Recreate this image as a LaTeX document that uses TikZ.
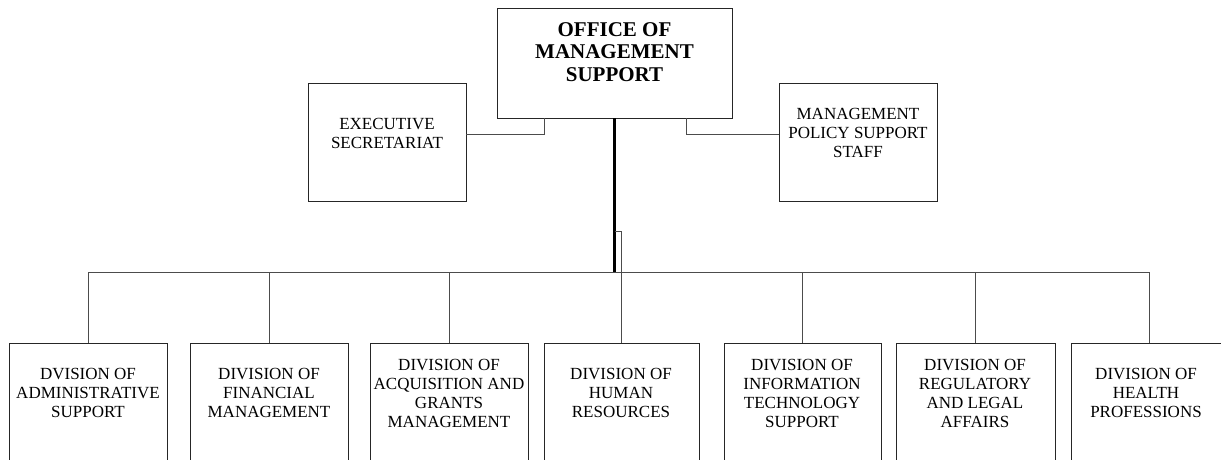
\documentclass[tikz,border=0pt]{standalone}
\usepackage{fontspec}
\setmainfont{Liberation Serif}
\begin{document}
\begin{tikzpicture}[x=1pt,y=-1pt,
  box/.style={draw=black!85, line width=0.9pt, inner sep=0pt, outer sep=0pt, anchor=north west},
  lbl/.style={align=center, font=\fontsize{17}{19}\selectfont, inner sep=0pt},
  ttl/.style={align=center, font=\fontsize{21}{22.5}\selectfont\bfseries, inner sep=0pt},
  conn/.style={draw=black!70, line width=0.9pt},
  trunk/.style={draw=black, line width=2.3pt}]
\useasboundingbox (0,0) rectangle (1221,459);
\clip (0,0) rectangle (1221,459);
\fill[white] (0,0) rectangle (1221,459);

% top level
\node[box, minimum width=235pt, minimum height=110pt] (oms) at (497,8) {};
\node[ttl] (omst) at (614.5,52) {OFFICE OF\\MANAGEMENT\\SUPPORT};

\node[box, minimum width=158pt, minimum height=118pt] (exec) at (308,83) {};
\node[lbl] (exect) at (387,133) {EXECUTIVE\\SECRETARIAT};

\node[box, minimum width=158pt, minimum height=118pt] (pol) at (779,83) {};
\node[lbl] (polt) at (858,133) {MANAGEMENT\\POLICY SUPPORT\\STAFF};

% divisions
\node[box, minimum width=158pt, minimum height=140pt] (d1) at (9,343) {};
\node[box, minimum width=158pt, minimum height=140pt] (d2) at (190,343) {};
\node[box, minimum width=158pt, minimum height=140pt] (d3) at (370,343) {};
\node[box, minimum width=155pt, minimum height=140pt] (d4) at (544,343) {};
\node[box, minimum width=157pt, minimum height=140pt] (d5) at (724,343) {};
\node[box, minimum width=159pt, minimum height=140pt] (d6) at (896,343) {};
\node[box, minimum width=156pt, minimum height=140pt] (d7) at (1071,343) {};

\node[lbl] (d1t) at (88,393) {DVISION OF\\ADMINISTRATIVE\\SUPPORT};
\node[lbl] (d2t) at (269,393) {DIVISION OF\\FINANCIAL\\MANAGEMENT};
\node[lbl] (d3t) at (449,393) {DIVISION OF\\ACQUISITION AND\\GRANTS\\MANAGEMENT};
\node[lbl] (d4t) at (621,393) {DIVISION OF\\HUMAN\\RESOURCES};
\node[lbl] (d5t) at (802,393) {DIVISION OF\\INFORMATION\\TECHNOLOGY\\SUPPORT};
\node[lbl] (d6t) at (975,393) {DIVISION OF\\REGULATORY\\AND LEGAL\\AFFAIRS};
\node[lbl] (d7t) at (1146,393) {DIVISION OF\\HEALTH\\PROFESSIONS};

% connectors to staff offices
\draw[conn] ([xshift=-70.5pt]oms.south) |- ([yshift=8pt]exec.east);
\draw[conn] ([xshift=71.5pt]oms.south) |- ([yshift=8pt]pol.west);

% trunk and bus
\coordinate (bus) at (0,272);
\coordinate (jog) at (0,231);
\draw[conn] (d1.north |- bus) -- (d7.north |- bus);
\draw[trunk] (oms.south) -- (oms.south |- bus);
\draw[conn] (oms.south |- jog) -| (d4.north);
\foreach \d in {d1,d2,d3,d5,d6,d7}{
  \draw[conn] (\d.north) -- (\d.north |- bus);
}
\end{tikzpicture}
\end{document}
